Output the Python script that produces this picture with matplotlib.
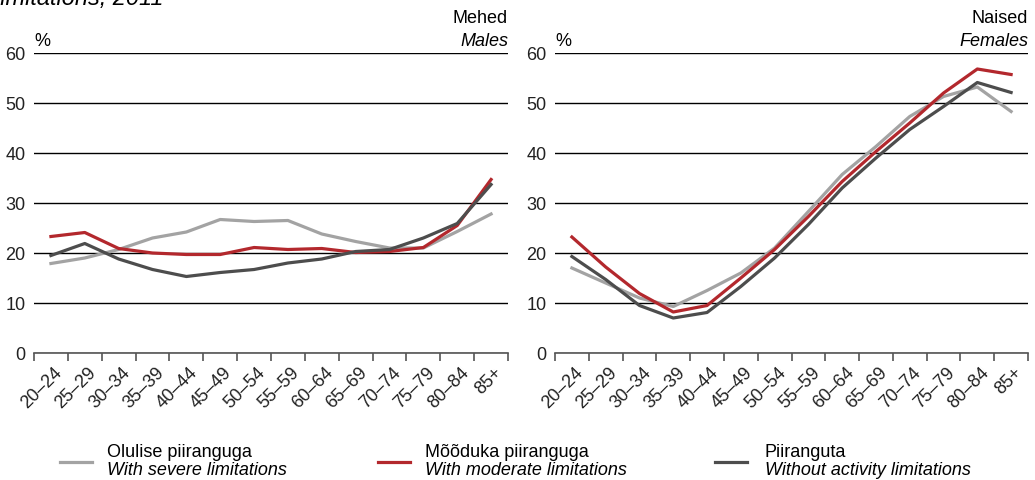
import numpy as np
import matplotlib
matplotlib.use('Agg')
import matplotlib.pyplot as plt
from matplotlib.lines import Line2D
import matplotlib.transforms as mtransforms

plt.rcParams['font.family'] = ['Liberation Sans', 'DejaVu Sans']

ages = ['20–24', '25–29', '30–34', '35–39', '40–44', '45–49', '50–54',
        '55–59', '60–64', '65–69', '70–74', '75–79', '80–84', '85+']

# males
m_severe = [17.9, 19.0, 20.7, 23.0, 24.2, 26.7, 26.3, 26.5, 23.8, 22.3, 21.0, 21.0, 24.3, 27.8]
m_moderate = [23.3, 24.1, 20.9, 20.0, 19.7, 19.7, 21.1, 20.7, 20.9, 20.1, 20.3, 21.1, 25.5, 34.7]
m_none = [19.5, 21.9, 18.8, 16.7, 15.3, 16.1, 16.7, 18.0, 18.8, 20.3, 20.7, 23.0, 25.9, 33.7]

# females
f_severe = [17.0, 14.0, 11.0, 9.3, 12.5, 16.0, 21.0, 28.3, 35.7, 41.3, 47.3, 51.3, 53.2, 48.3]
f_moderate = [23.2, 17.2, 11.9, 8.2, 9.5, 15.0, 20.7, 27.3, 34.3, 40.3, 46.0, 52.0, 56.8, 55.7]
f_none = [19.3, 14.7, 9.5, 7.0, 8.1, 13.3, 19.0, 25.7, 33.0, 39.0, 44.7, 49.3, 54.1, 52.1]

c_severe = '#a3a3a3'
c_moderate = '#b3282d'
c_none = '#4d4d4d'

W, H = 1035, 480
fig = plt.figure(figsize=(W / 100, H / 100), dpi=100)


def px(x0, y0, x1, y1):
    return [x0 / W, 1 - y1 / H, (x1 - x0) / W, (y1 - y0) / H]


def panel(rect, sev, mod, non, top, bottom):
    ax = fig.add_axes(rect)
    x = np.arange(len(ages))
    ax.plot(x, sev, color=c_severe, lw=2.3)
    ax.plot(x, mod, color=c_moderate, lw=2.3)
    ax.plot(x, non, color=c_none, lw=2.3)
    ax.set_xlim(-0.5, len(ages) - 0.5)
    ax.set_ylim(0, 60)
    ax.set_yticks(range(0, 61, 10))
    ax.grid(axis='y', color='black', lw=1)
    ax.set_axisbelow(True)
    for s in ['left', 'top', 'right']:
        ax.spines[s].set_visible(False)
    ax.spines['bottom'].set_color('#555555')
    ax.spines['bottom'].set_linewidth(1.2)
    ax.spines['bottom'].set_zorder(3)
    ax.tick_params(axis='y', length=0, pad=6, labelsize=13, colors='#222222')
    ax.set_xticks(np.arange(-0.5, len(ages)), minor=False)
    ax.set_xticklabels([])
    ax.tick_params(axis='x', which='major', length=6, width=1.2, color='#555555', direction='out')
    ax.set_xticks(x, minor=True)
    ax.set_xticklabels(ages, minor=True, rotation=45, ha='right', va='top',
                       rotation_mode='anchor', fontsize=13, color='#222222')
    ax.tick_params(axis='x', which='minor', length=0, pad=8)
    off = mtransforms.ScaledTranslation(3 / 100, 0, fig.dpi_scale_trans)
    for lab in ax.get_xticklabels(minor=True):
        lab.set_transform(lab.get_transform() + off)
    ax.text(0.0, 1.025, '%', transform=ax.transAxes, fontsize=13, ha='left', va='baseline')
    ax.text(1.0, 1.10, top, transform=ax.transAxes, fontsize=13, ha='right', va='baseline')
    ax.text(1.0, 1.025, bottom, transform=ax.transAxes, fontsize=13, ha='right',
            va='baseline', style='italic')
    return ax


panel(px(34, 53, 508, 353), m_severe, m_moderate, m_none, 'Mehed', 'Males')
panel(px(555, 53, 1028, 353), f_severe, f_moderate, f_none, 'Naised', 'Females')

fig.text(-5 / W, 1 - 4.5 / H, 'limitations, 2011', fontsize=16.9, style='italic',
         ha='left', va='baseline')

# legend
items = [(60, c_severe, 'Olulise piiranguga', 'With severe limitations'),
         (378, c_moderate, 'Mõõduka piiranguga', 'With moderate limitations'),
         (715, c_none, 'Piiranguta', 'Without activity limitations')]
for x0, col, et, en in items:
    fig.add_artist(Line2D([x0 / W, (x0 + 32) / W], [1 - 462 / H, 1 - 462 / H],
                          color=col, lw=2.3, transform=fig.transFigure))
    tx = x0 + 47 if x0 != 715 else 765
    fig.text(tx / W, 1 - 457 / H, et, fontsize=13, ha='left', va='baseline')
    fig.text(tx / W, 1 - 475 / H, en, fontsize=13, ha='left', va='baseline', style='italic')

fig.savefig('out.png', dpi=100)
